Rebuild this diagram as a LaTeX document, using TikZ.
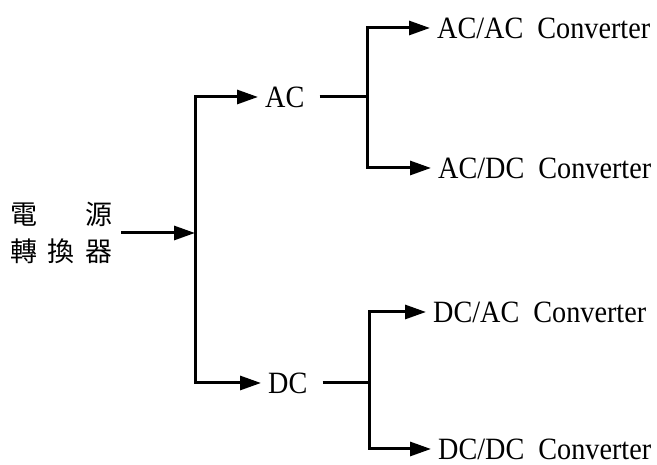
\documentclass[tikz,border=0pt]{standalone}
\usepackage{fontspec}
\setmainfont{Liberation Serif}
\newfontfamily\lblfont{Liberation Serif}[FakeStretch=0.91]
\newfontfamily\cjk{Noto Sans CJK TC}
\usetikzlibrary{arrows.meta}

\newcommand{\cgap}{\hspace{14pt}}

\tikzset{
	line/.style={line width=3pt, line join=miter},
	arr/.style={line, -{Triangle[length=21pt,width=14pt]}},
	lbl/.style={font=\lblfont\fontsize{31}{32}\selectfont, inner ysep=0pt, inner xsep=7pt, anchor=west},
}

\begin{document}
\begin{tikzpicture}[x=1pt,y=1pt]
		\useasboundingbox (0,0) rectangle (657,465);
		% source block
		\node[anchor=west, inner xsep=9pt, inner ysep=0pt, font=\cjk\fontsize{27}{37}\selectfont, align=left] (src) at (1,232)
			{\makebox[102pt][s]{電\hfill 源}\\\makebox[102pt][s]{轉\hfill 換\hfill 器}};
		\coordinate (fork) at (195,232);
		\draw[arr] (src.east) -- (fork);
		% AC / DC
		\node[lbl] (AC) at (258,368) {AC};
		\node[lbl] (DC) at (261,82) {DC};
		\draw[arr] (fork) |- (AC.west);
		\draw[arr] (fork) |- (DC.west);
		% converters
		\coordinate (ac-split) at (367,368);
		\coordinate (dc-split) at (369,82);
		\node[lbl] (acac) at (430,437) {AC/AC\cgap Converter};
		\node[lbl] (acdc) at (431,297) {AC/DC\cgap Converter};
		\node[lbl] (dcac) at (426,153) {DC/AC\cgap Converter};
		\node[lbl] (dcdc) at (431,16) {DC/DC\cgap Converter};
		\draw[line, shorten <=8pt] (AC.east) -- (ac-split);
		\draw[line, shorten <=8pt] (DC.east) -- (dc-split);
		\draw[arr] (ac-split) |- (acac.west);
		\draw[arr] (ac-split) |- (acdc.west);
		\draw[arr] (dc-split) |- (dcac.west);
		\draw[arr] (dc-split) |- (dcdc.west);
	\end{tikzpicture}
\end{document}
